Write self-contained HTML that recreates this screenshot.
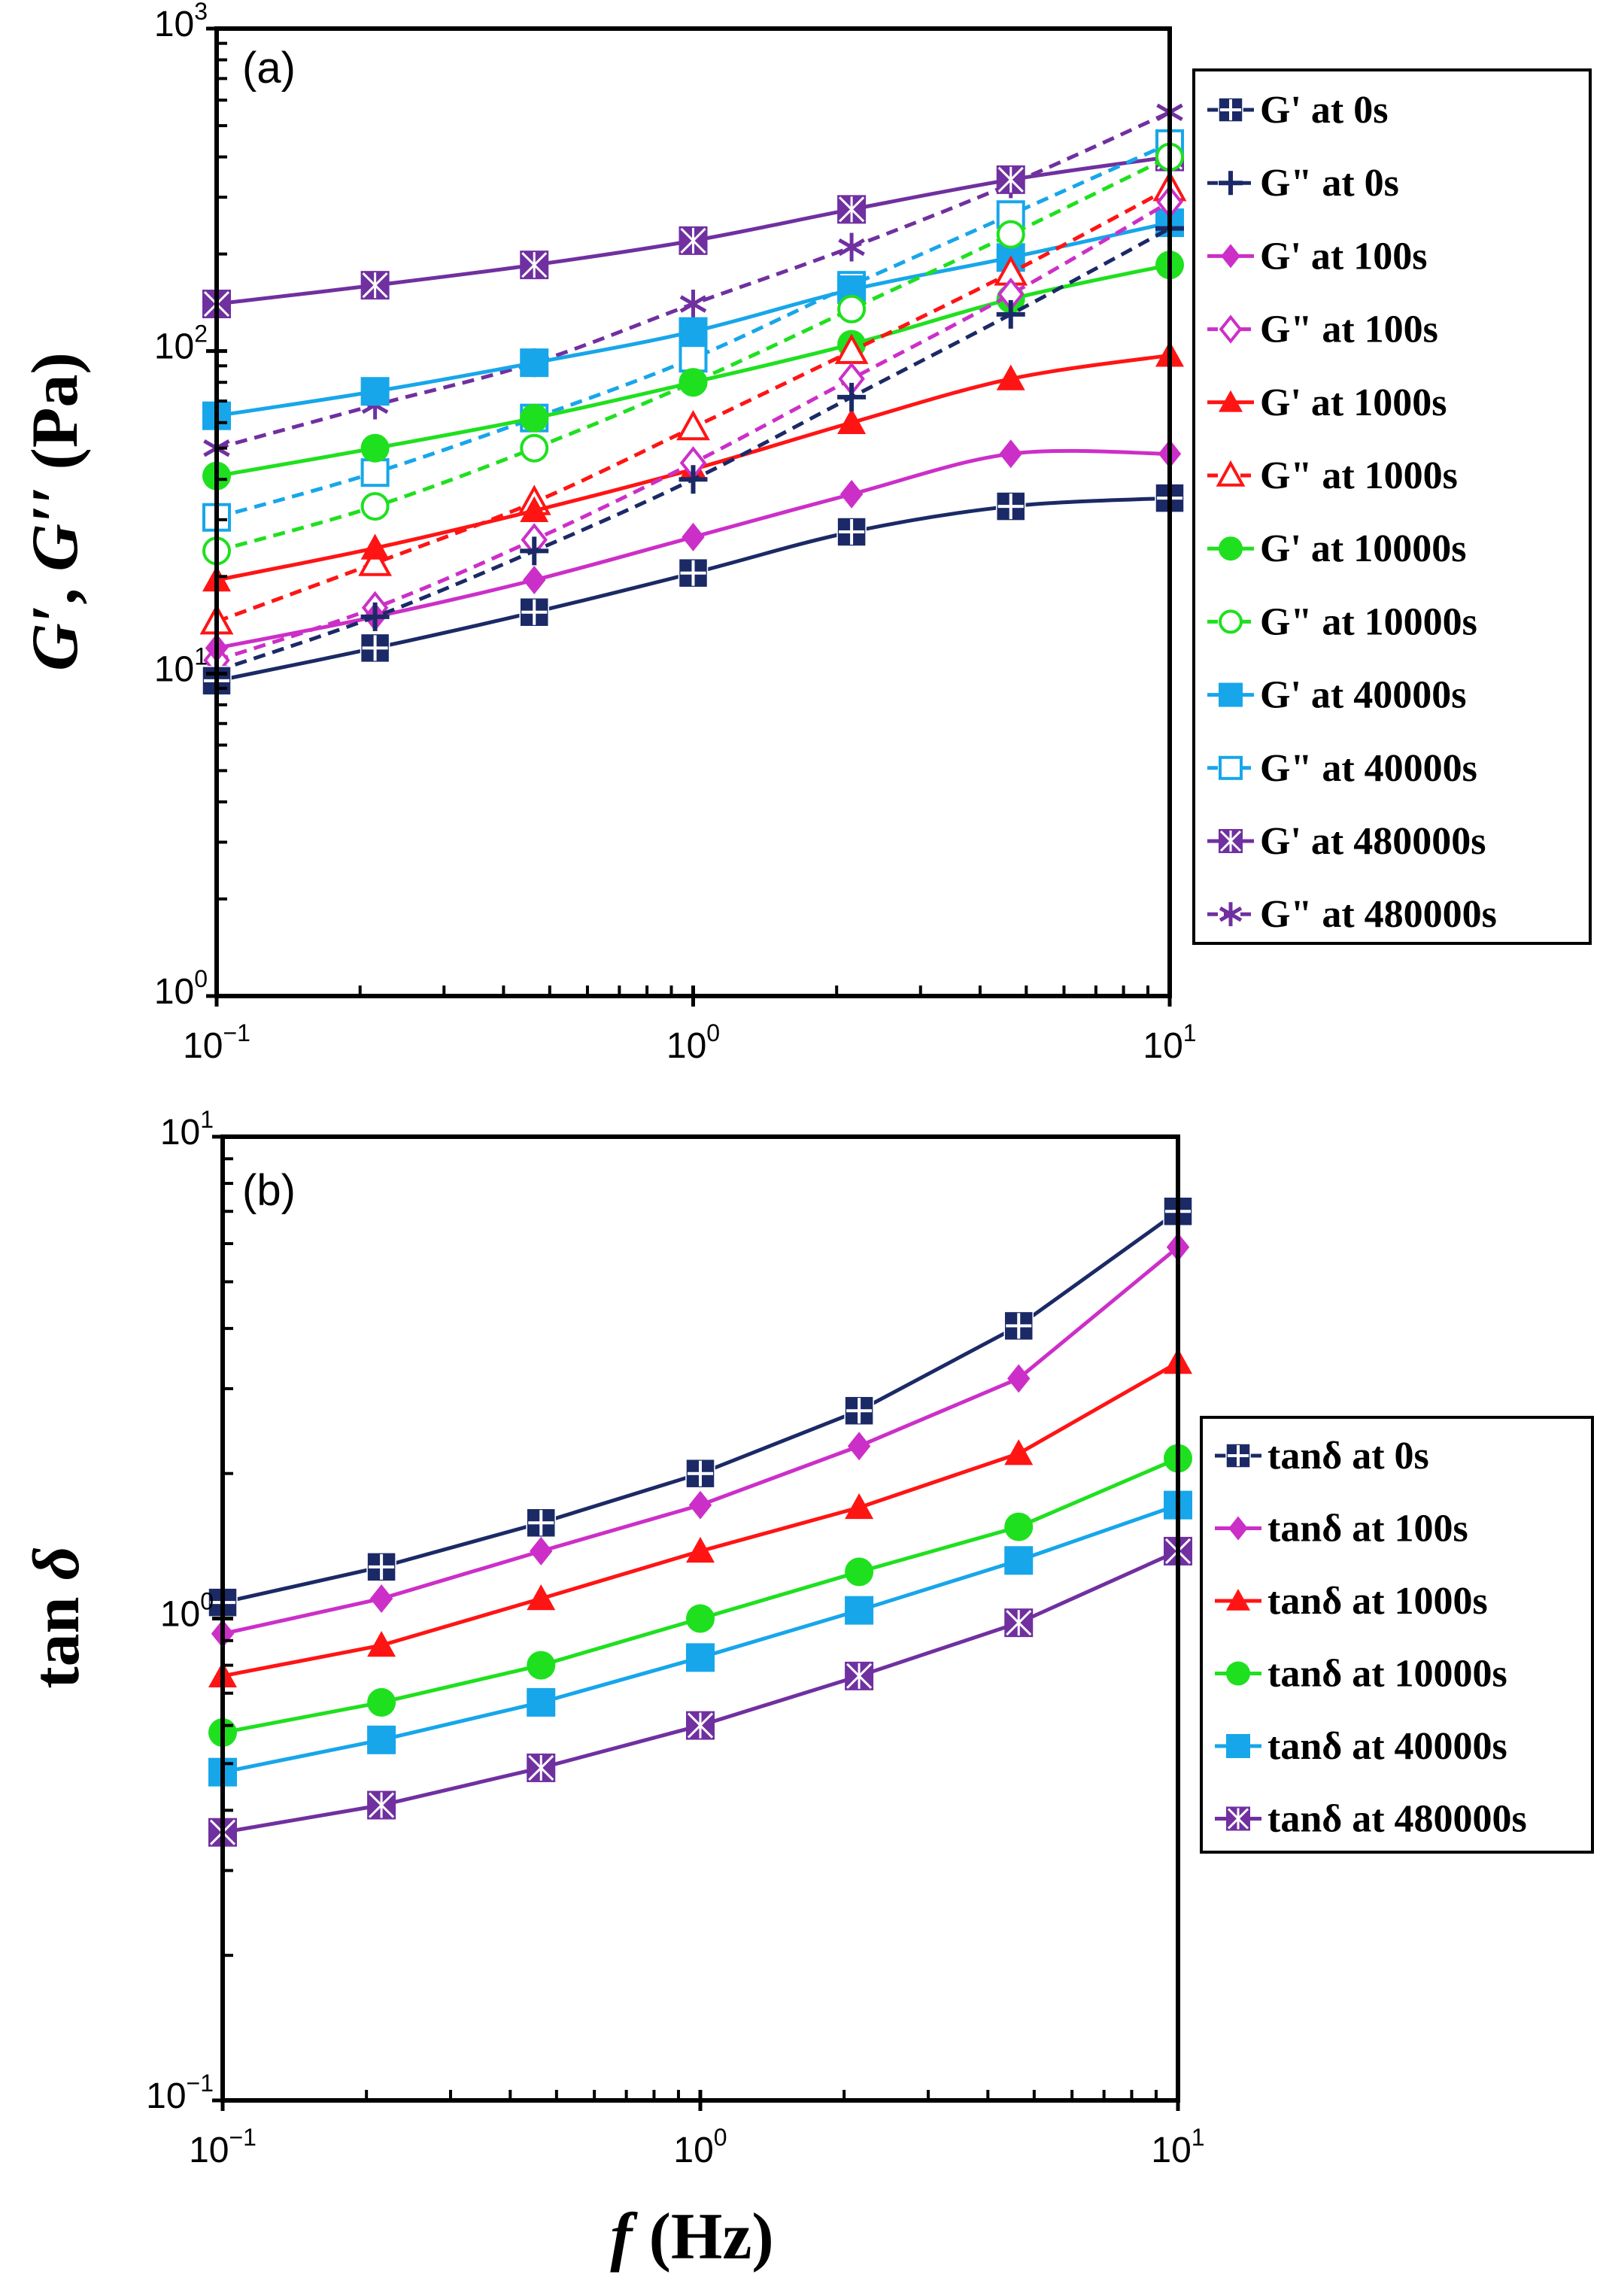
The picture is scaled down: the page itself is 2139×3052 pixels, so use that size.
<!DOCTYPE html>
<html><head><meta charset="utf-8"><style>
html,body{margin:0;padding:0;background:#fff;}
svg{display:block;}
</style></head><body>
<svg id="chart" width="2139" height="3052" viewBox="0 0 2139 3052" xmlns="http://www.w3.org/2000/svg"></svg>
<script>
const freqs=[0.1,0.215,0.464,1,2.15,4.64,10];
const gLabels=["G' at 0s","G\" at 0s","G' at 100s","G\" at 100s","G' at 1000s","G\" at 1000s","G' at 10000s","G\" at 10000s","G' at 40000s","G\" at 40000s","G' at 480000s","G\" at 480000s"];
const gp0=[9.5,12,15.5,20.5,27.5,33,35];
const gpp0=[10.2,15,24,40,72,130,240];
const gp100=[12,15,19.5,26.5,36,48,48];
const gpp100=[11,16,26,45,82,150,290];
const gp1000=[19.5,24.5,32,43,60,82,97];
const gpp1000=[14.5,22,34,58,100,175,320];
const gp10000=[41,50,62,80,105,145,185];
const gpp10000=[24,33,50,80,135,230,400];
const gp40000=[63,75,92,115,155,195,250];
const gpp40000=[30.5,42,62,95,160,265,440];
const gp480000=[140,160,185,220,275,340,400];
const gpp480000=[50,68,92,140,210,330,550];
const tLabels=["tanδ at 0s","tanδ at 100s","tanδ at 1000s","tanδ at 10000s","tanδ at 40000s","tanδ at 480000s"];
const tan0=[1.08,1.28,1.58,2.0,2.7,4.05,7.0];
const tan100=[0.93,1.1,1.38,1.72,2.28,3.15,5.9];
const tan1000=[0.76,0.88,1.1,1.38,1.7,2.2,3.4];
const tan10000=[0.58,0.67,0.8,1.0,1.25,1.55,2.15];
const tan40000=[0.48,0.56,0.67,0.83,1.04,1.32,1.72];
const tan480000=[0.36,0.41,0.49,0.6,0.76,0.98,1.38];
const xTickExp=["−1","0","1"];
const yTickExpA=["0","1","2","3"];
const yTickExpB=["−1","0","1"];

const NS="http://www.w3.org/2000/svg";
const svg=document.getElementById('chart');
function el(tag,attrs,parent){const e=document.createElementNS(NS,tag);for(const k in attrs)e.setAttribute(k,attrs[k]);(parent||svg).appendChild(e);return e;}
const C={navy:'#1b2a66',mag:'#cc2fc8',red:'#ff1414',green:'#1fe01f',blue:'#17a6ea',purple:'#7030a0'};

function axes(L,R,T,B,xmin,xmax,ymin,ymax){
  const fx=v=>L+(Math.log10(v)-Math.log10(xmin))/(Math.log10(xmax)-Math.log10(xmin))*(R-L);
  const fy=v=>B-(Math.log10(v)-Math.log10(ymin))/(Math.log10(ymax)-Math.log10(ymin))*(B-T);
  return {fx,fy};
}
function drawFrame(g,L,R,T,B,xmin,xmax,ymin,ymax,ax,yexp,name){
  const f=el('g',{},g);
  
  
  el('rect',{x:L,y:T,width:R-L,height:B-T,fill:'none',stroke:'#000','stroke-width':6},f);
  for(let d=Math.log10(ymin);d<Math.log10(ymax);d++){
    for(let m=1;m<10;m++){const v=m*Math.pow(10,d);const y=ax.fy(v);
      if(m===1){el('line',{x1:L-14,x2:L+14,y1:y,y2:y,stroke:'#000','stroke-width':5},f);}
      else el('line',{x1:L,x2:L+14,y1:y,y2:y,stroke:'#000','stroke-width':4},f);}
  }
  for(let d=Math.log10(xmin);d<Math.log10(xmax);d++){
    for(let m=1;m<10;m++){const v=m*Math.pow(10,d);const x=ax.fx(v);
      if(m===1){el('line',{x1:x,x2:x,y1:B-14,y2:B+14,stroke:'#000','stroke-width':5},f);}
      else el('line',{x1:x,x2:x,y1:B,y2:B-14,stroke:'#000','stroke-width':4},f);}
  }
  el('line',{x1:R,x2:R,y1:B-14,y2:B+14,stroke:'#000','stroke-width':5},f);
  el('line',{x1:L-14,x2:L,y1:T,y2:T,stroke:'#000','stroke-width':5},f);
  xTickExp.forEach((e,i)=>{const x=ax.fx(xmin*Math.pow(10,i));
    const t=el('text',{x:x,y:B+82,'text-anchor':'middle','font-family':'Liberation Sans, sans-serif','font-size':48,fill:'#000'},f);
    
    t.innerHTML='10<tspan dy="-22" font-size="32">'+e+'</tspan>';});
  yexp.forEach((e,i)=>{const y=ax.fy(ymin*Math.pow(10,i));
    const t=el('text',{x:L-12,y:y+10,'text-anchor':'end','font-family':'Liberation Sans, sans-serif','font-size':48,fill:'#000'},f);
    
    t.innerHTML='10<tspan dy="-22" font-size="32">'+e+'</tspan>';});
}
function smoothPath(pts){
  let d='M'+pts[0][0]+','+pts[0][1];
  for(let i=0;i<pts.length-1;i++){
    const p0=pts[i-1]||pts[i],p1=pts[i],p2=pts[i+1],p3=pts[i+2]||p2;
    const c1=[p1[0]+(p2[0]-p0[0])/6,p1[1]+(p2[1]-p0[1])/6];
    const c2=[p2[0]-(p3[0]-p1[0])/6,p2[1]-(p3[1]-p1[1])/6];
    d+=' C'+c1+' '+c2+' '+p2;
  }
  return d;
}
function marker(g,type,x,y,col,s){
  const h=s/2;
  switch(type){
    case 'sqcross':
      el('rect',{x:x-h,y:y-h,width:s,height:s,fill:col,stroke:'#fff','stroke-width':1.5},g);
      el('line',{x1:x,x2:x,y1:y-h+2,y2:y+h-2,stroke:'#fff','stroke-width':4},g);
      el('line',{x1:x-h+2,x2:x+h-2,y1:y,y2:y,stroke:'#fff','stroke-width':4},g);break;
    case 'plus':
      el('line',{x1:x,x2:x,y1:y-h,y2:y+h,stroke:col,'stroke-width':6},g);
      el('line',{x1:x-h,x2:x+h,y1:y,y2:y,stroke:col,'stroke-width':6},g);break;
    case 'diamond':
      el('polygon',{points:[x,y-h,x+h*0.8,y,x,y+h,x-h*0.8,y].join(' '),fill:col},g);break;
    case 'odiamond':
      el('polygon',{points:[x,y-h,x+h*0.8,y,x,y+h,x-h*0.8,y].join(' '),fill:'#fff',stroke:col,'stroke-width':4},g);break;
    case 'tri':
      el('polygon',{points:[x,y-h,x+h,y+h*0.8,x-h,y+h*0.8].join(' '),fill:col},g);break;
    case 'otri':
      el('polygon',{points:[x,y-h,x+h,y+h*0.8,x-h,y+h*0.8].join(' '),fill:'#fff',stroke:col,'stroke-width':4},g);break;
    case 'circle':
      el('circle',{cx:x,cy:y,r:h,fill:col},g);break;
    case 'ocircle':
      el('circle',{cx:x,cy:y,r:h-2,fill:'#fff',stroke:col,'stroke-width':4},g);break;
    case 'square':
      el('rect',{x:x-h,y:y-h,width:s,height:s,fill:col},g);break;
    case 'osquare':
      el('rect',{x:x-h+2,y:y-h+2,width:s-4,height:s-4,fill:'#fff',stroke:col,'stroke-width':4},g);break;
    case 'sqx':
      el('rect',{x:x-h,y:y-h,width:s,height:s,fill:col},g);
      el('line',{x1:x-h+3,x2:x+h-3,y1:y-h+3,y2:y+h-3,stroke:'#fff','stroke-width':3},g);
      el('line',{x1:x-h+3,x2:x+h-3,y1:y+h-3,y2:y-h+3,stroke:'#fff','stroke-width':3},g);
      el('line',{x1:x,x2:x,y1:y-h+2,y2:y+h-2,stroke:'#fff','stroke-width':3},g);break;
    case 'star':
      el('line',{x1:x,x2:x,y1:y-h,y2:y+h,stroke:col,'stroke-width':5},g);
      el('line',{x1:x-h*0.87,x2:x+h*0.87,y1:y-h*0.5,y2:y+h*0.5,stroke:col,'stroke-width':5},g);
      el('line',{x1:x-h*0.87,x2:x+h*0.87,y1:y+h*0.5,y2:y-h*0.5,stroke:col,'stroke-width':5},g);break;
  }
}
function series(g,name,xs,ys,ax,col,type,dash,smooth){
  const s=el('g',{},g);
  
  
  const pts=xs.map((v,i)=>[ax.fx(v),ax.fy(ys[i])]);
  const p=el('path',{d:smooth?smoothPath(pts):'M'+pts.map(q=>q.join(',')).join(' L'),fill:'none',stroke:col,'stroke-width':5},s);
  if(dash)p.setAttribute('stroke-dasharray','16 10');
  pts.forEach(q=>{const m=el('g',{},s);marker(m,type,q[0],q[1],col,38);});
}
function legend(g,x,y,w,h,rowY0,dy,items,name){
  const lg=el('g',{},g);
  
  
  el('rect',{x:x,y:y,width:w,height:h,fill:'#fff',stroke:'#000','stroke-width':4},lg);
  items.forEach((it,i)=>{const yy=rowY0+i*dy;
    const e=el('g',{},lg);
    
    
    const ln=el('line',{x1:x+18,x2:x+80,y1:yy,y2:yy,stroke:it.col,'stroke-width':5},e);
    if(it.dash)ln.setAttribute('stroke-dasharray','14 8');
    marker(e,it.type,x+49,yy,it.col,32);
    const t=el('text',{x:x+88,y:yy+17,'font-family':'Liberation Serif, serif','font-weight':'bold','font-size':52,fill:'#000'},e);
    t.textContent=it.label;});
}

// ---------- Chart (a)
const gA=el('g',{});


const LA=288,RA=1555,TA=38,BA=1324;
const axA=axes(LA,RA,TA,BA,0.1,10,1,1000);
const specA=[[gp0,C.navy,'sqcross',0],[gpp0,C.navy,'plus',1],[gp100,C.mag,'diamond',0],[gpp100,C.mag,'odiamond',1],[gp1000,C.red,'tri',0],[gpp1000,C.red,'otri',1],[gp10000,C.green,'circle',0],[gpp10000,C.green,'ocircle',1],[gp40000,C.blue,'square',0],[gpp40000,C.blue,'osquare',1],[gp480000,C.purple,'sqx',0],[gpp480000,C.purple,'star',1]];
specA.slice().reverse().forEach((s,k)=>{const i=specA.length-1-k;series(gA,'series-a-'+i,freqs,s[0],axA,s[1],s[2],s[3],true);});
drawFrame(gA,LA,RA,TA,BA,0.1,10,1,1000,axA,yTickExpA,'chart-a');
legend(gA,1587,93,527,1161,146,97.2,specA.map((s,i)=>({label:gLabels[i],col:s[1],type:s[2],dash:s[3]})),'legend-a');
let t=el('text',{x:322,y:110,'font-family':'Liberation Sans, sans-serif','font-size':58,fill:'#000'},gA);
t.textContent='(a)';
t=el('text',{x:0,y:0,transform:'translate(102,680) rotate(-90)','text-anchor':'middle','font-family':'Liberation Serif, serif','font-weight':'bold','font-size':88,fill:'#000'},gA);

t.innerHTML='<tspan font-style="italic">G′</tspan>, <tspan font-style="italic">G′′</tspan> (Pa)';

// ---------- Chart (b)
const gB=el('g',{});


const LB=296,RB=1566,TB=1511,BB=2792;
const axB=axes(LB,RB,TB,BB,0.1,10,0.1,10);
const specB=[[tan0,C.navy,'sqcross'],[tan100,C.mag,'diamond'],[tan1000,C.red,'tri'],[tan10000,C.green,'circle'],[tan40000,C.blue,'square'],[tan480000,C.purple,'sqx']];
specB.forEach((s,i)=>series(gB,'series-b-'+i,freqs,s[0],axB,s[1],s[2],0,false));
drawFrame(gB,LB,RB,TB,BB,0.1,10,0.1,10,axB,yTickExpB,'chart-b');
legend(gB,1597,1884,520,578,1935,96.5,specB.map((s,i)=>({label:tLabels[i],col:s[1],type:s[2],dash:0})),'legend-b');
t=el('text',{x:322,y:1602,'font-family':'Liberation Sans, sans-serif','font-size':58,fill:'#000'},gB);
t.textContent='(b)';
t=el('text',{x:0,y:0,transform:'translate(104,2150) rotate(-90)','text-anchor':'middle','font-family':'Liberation Serif, serif','font-weight':'bold','font-size':88,fill:'#000'},gB);

t.innerHTML='tan <tspan font-style="italic">δ</tspan>';
t=el('text',{x:920,y:3002,'text-anchor':'middle','font-family':'Liberation Serif, serif','font-weight':'bold','font-size':88,fill:'#000'},gB);

t.innerHTML='<tspan font-style="italic">f</tspan> (Hz)';
</script>
</body></html>
